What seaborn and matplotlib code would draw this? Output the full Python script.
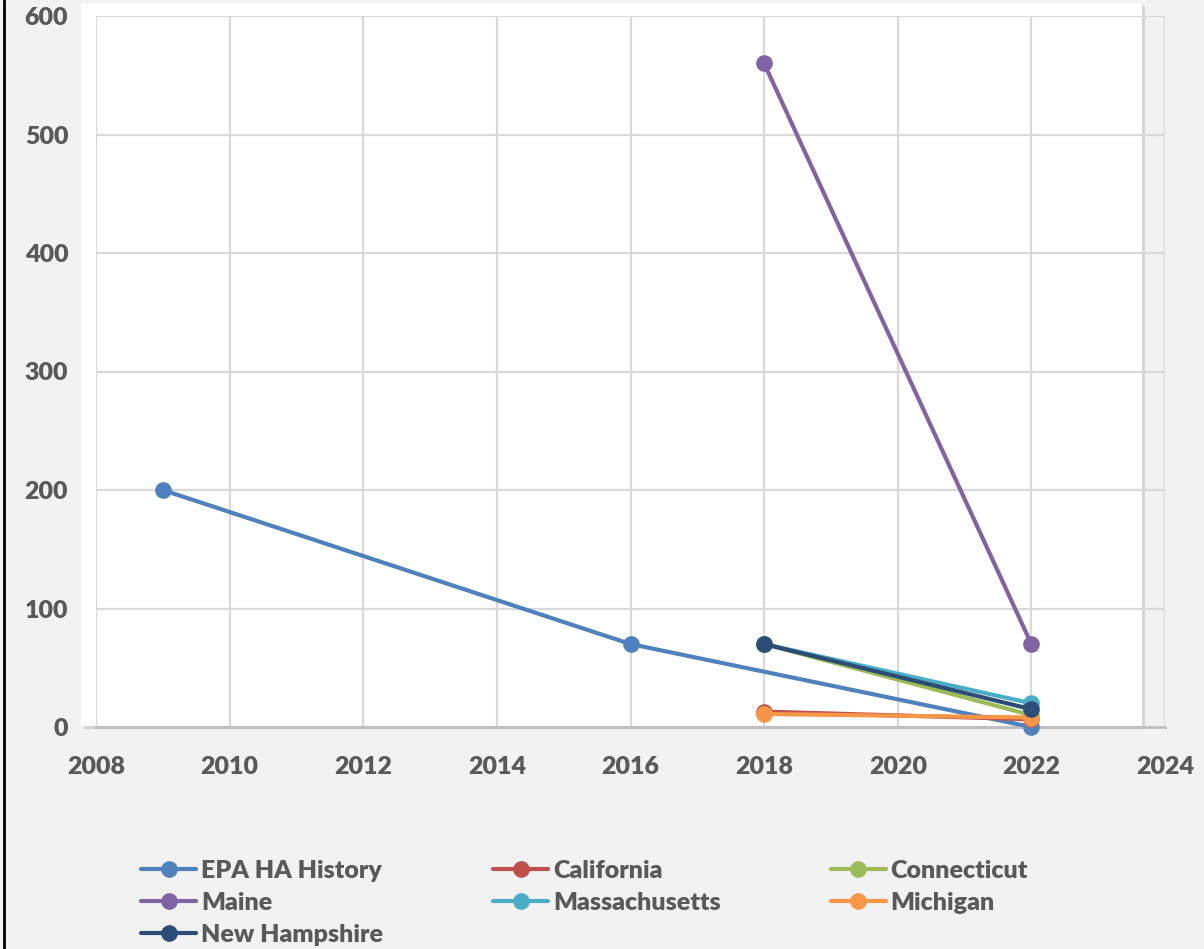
import matplotlib
matplotlib.use("Agg")
import matplotlib.pyplot as plt
import matplotlib.patches as mpatches
import matplotlib.lines as mlines
import seaborn as sns
import pandas as pd

# series values
series_names = ["EPA HA History", "California", "Connecticut", "Maine",
                "Massachusetts", "Michigan", "New Hampshire"]
epa_years = [2009, 2016, 2022]
epa_vals = [200, 70, 0]
state_years = [2018, 2022]
california = [13, 6.5]
connecticut = [70, 10]
maine = [560, 70]
massachusetts = [70, 20]
michigan = [11, 8]
new_hampshire = [70, 15]

colors = ["#4F81BD", "#C0504D", "#9BBB59", "#8064A2",
          "#4BACC6", "#F79646", "#2C4D75"]

rows = []
for y, v in zip(epa_years, epa_vals):
    rows.append(("EPA HA History", y, v))
for name, vals in [("California", california), ("Connecticut", connecticut),
                   ("Maine", maine), ("Massachusetts", massachusetts),
                   ("Michigan", michigan), ("New Hampshire", new_hampshire)]:
    for y, v in zip(state_years, vals):
        rows.append((name, y, v))
df = pd.DataFrame(rows, columns=["series", "year", "value"])

sns.set_style("white")
plt.rcParams['font.family'] = ['Lato', 'DejaVu Sans']
wt = "heavy"
fs = 18
txt = "#595959"

W, H = 1204, 949
fig = plt.figure(figsize=(W / 100, H / 100), dpi=100)
fig.patch.set_facecolor("#F2F2F2")

# white plot-area box with a soft shadow (Excel style)
shadow = mpatches.Rectangle((84 / W, 1 - 729 / H), (1142 - 81) / W, (726 - 3) / H,
                            transform=fig.transFigure, facecolor="#D4D4D4",
                            edgecolor="none", zorder=-2)
white = mpatches.Rectangle((81 / W, 1 - 726 / H), (1142 - 81) / W, (726 - 3) / H,
                           transform=fig.transFigure, facecolor="white",
                           edgecolor="none", zorder=-1)
fig.patches.extend([shadow, white])
fig.lines.append(mlines.Line2D([4 / W, 4 / W], [0, 1], transform=fig.transFigure,
                               color="black", linewidth=2))

ax = fig.add_axes([96 / W, 1 - 727 / H, (1165 - 96) / W, (727 - 16) / H])
ax.patch.set_alpha(0)

sns.lineplot(data=df, x="year", y="value", hue="series", hue_order=series_names,
             palette=colors, marker="o", markersize=12, markeredgewidth=0,
             linewidth=3, legend=False, ax=ax, zorder=3)
for ln in ax.lines:
    ln.set_clip_on(False)

ax.set_xlim(2008, 2024)
ax.set_ylim(0, 600)
ax.set_xticks(range(2008, 2025, 2))
ax.set_yticks(range(0, 601, 100))
ax.grid(True, color="#D9D9D9", linewidth=1.6)
ax.set_axisbelow(True)
for s in ["top", "right", "left"]:
    ax.spines[s].set_visible(False)
ax.spines["bottom"].set_color("#BFBFBF")
ax.spines["bottom"].set_linewidth(2)
ax.tick_params(length=0, labelsize=fs, labelcolor=txt)
ax.tick_params(axis="y", pad=20)
ax.tick_params(axis="x", pad=21)
for lab in ax.get_xticklabels() + ax.get_yticklabels():
    lab.set_fontweight(wt)
ax.set_xlabel("")
ax.set_ylabel("")

# legend in Excel row order -> matplotlib fills columns
handles = {n: mlines.Line2D([], [], color=c, linewidth=3, marker="o",
                            markersize=12, markeredgewidth=0)
           for n, c in zip(series_names, colors)}
order = ["EPA HA History", "Maine", "New Hampshire", "California",
         "Massachusetts", "Connecticut", "Michigan"]
leg = fig.legend([handles[n] for n in order], order, ncol=3, loc="upper left",
                 bbox_to_anchor=(141 / W, 1 - 860 / H), frameon=False,
                 borderpad=0, borderaxespad=0, handlelength=2.2,
                 handletextpad=0.2, columnspacing=4.4, labelspacing=0.40,
                 prop={"size": fs, "weight": wt})
for t in leg.get_texts():
    t.set_color(txt)

plt.savefig("out.png", dpi=100, facecolor=fig.get_facecolor())
